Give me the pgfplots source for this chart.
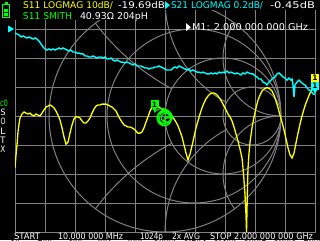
\documentclass[border=0pt]{standalone}
\usepackage{pgfplots}
\pgfplotsset{compat=1.18}
\usetikzlibrary{shapes.geometric}
\usepackage{graphicx}
\usepackage{fontspec}
\setmainfont{DejaVu Sans}
\definecolor{vgray}{RGB}{128,128,128}
\definecolor{vyel}{RGB}{255,255,0}
\definecolor{vcyan}{RGB}{0,255,255}
\definecolor{vgreen}{RGB}{0,255,0}
% x0, width, baseline (px from top), height, colour, text
\newcommand{\T}[6]{\node[anchor=base west,inner sep=0pt,outer sep=0pt,text=#5] at (#1,240-#3) {\resizebox{#2pt}{#4pt}{#6}};}
\tikzset{
 mtri/.style={regular polygon, regular polygon sides=3, shape border rotate=180, fill=#1, draw=none, inner sep=0pt, minimum size=7pt, anchor=corner 1},
 mbox/.style={fill=#1, text=black, inner sep=0pt, minimum width=8pt, minimum height=8pt, anchor=south, yshift=4pt, font=\fontsize{7.5}{7.5}\selectfont\bfseries}
}
\begin{document}
\begin{tikzpicture}[x=1pt,y=1pt]
\fill[black] (0,0) rectangle (320,240);
% ---------- Smith chart grid ----------
\begin{scope}[vgray, line width=1pt]
 \begin{scope}
  \clip (165,124) circle (116pt);
  \draw (281,356) circle (232pt);
  \draw (281,-108) circle (232pt);
  \draw (194,124) circle (87pt);
 \end{scope}
 \fill[black] (223,124) circle (58pt);
 \begin{scope}
  \clip (165,124) circle (116pt);
  \draw (281,240) circle (116pt);
  \draw (281,8) circle (116pt);
  \draw (223,124) circle (58pt);
 \end{scope}
 \fill[black] (252,124) circle (29pt);
 \draw (252,124) circle (29pt);
 \begin{scope}
  \clip (165,124) circle (116pt);
  \draw (281,182) circle (58pt);
  \draw (281,66) circle (58pt);
 \end{scope}
 \draw (165,124) circle (116pt);
\end{scope}
% ---------- S11 LOGMAG (with rectangular grid) ----------
\begin{axis}[at={(15pt,8pt)}, anchor=south west, scale only axis,
  width=300pt, height=232pt,
  xmin=10, xmax=2000, ymin=-70, ymax=10,
  xtick={10,209,408,607,806,1005,1204,1403,1602,1801,2000},
  ytick={-70,-60,-50,-40,-30,-20,-10,0,10},
  xticklabel={}, yticklabel={}, major tick length=0pt,
  grid=major, major grid style={vgray, line width=1pt},
  axis line style={vgray, line width=1pt},
  clip mode=individual]
\addplot[vyel, line width=1.3pt] table[x=f, y=db] {
f db
10 -47.9
16.6 -43.4
23.3 -40.0
29.9 -35.5
36.5 -32.8
43.2 -30.7
56.4 -29.3
69.7 -28.6
83.0 -29.0
96.2 -29.3
109.5 -29.0
122.8 -29.7
136.0 -30.0
149.3 -29.3
162.6 -29.7
175.8 -30.0
189.1 -29.0
202.4 -27.9
215.6 -26.9
228.9 -26.6
242.2 -26.2
255.4 -26.6
268.7 -27.2
282.0 -28.3
295.2 -29.7
308.5 -31.4
321.8 -34.1
335.0 -37.2
348.3 -39.7
361.6 -39.0
374.8 -35.9
388.1 -33.1
401.4 -31.0
414.6 -30.3
427.9 -30.3
441.2 -30.7
454.4 -31.7
467.7 -32.4
481.0 -32.4
494.2 -31.7
507.5 -30.7
520.8 -29.0
534.0 -27.6
547.3 -26.6
560.6 -26.2
573.8 -26.2
587.1 -25.9
600.4 -25.9
613.6 -25.9
626.9 -26.2
640.2 -26.6
653.4 -26.9
666.7 -27.6
680.0 -28.3
693.2 -29.7
706.5 -31.0
719.8 -32.1
733.0 -33.1
746.3 -33.4
759.6 -33.8
772.8 -33.8
786.1 -34.1
799.4 -34.5
812.6 -35.2
825.9 -35.9
839.2 -35.9
852.4 -35.5
865.7 -34.1
879.0 -32.1
892.2 -30.3
905.5 -28.3
918.8 -26.9
932.0 -26.2
945.3 -26.2
958.6 -26.6
971.8 -27.2
985.1 -27.6
998.4 -28.3
1011.6 -28.6
1024.9 -29.0
1038.2 -29.7
1051.4 -30.3
1064.7 -31.0
1078.0 -32.1
1091.2 -33.4
1104.5 -35.2
1117.8 -37.2
1131.0 -40.0
1144.3 -42.8
1157.6 -45.2
1170.8 -43.1
1184.1 -40.3
1197.4 -37.2
1210.6 -34.1
1223.9 -31.7
1237.2 -29.3
1250.4 -27.2
1263.7 -25.5
1277.0 -24.1
1290.2 -23.1
1303.5 -22.4
1316.8 -22.1
1330.0 -22.1
1343.3 -22.4
1356.6 -23.1
1369.8 -24.1
1383.1 -25.2
1396.4 -26.6
1409.6 -27.9
1422.9 -29.3
1436.2 -30.3
1449.4 -31.7
1462.7 -33.8
1476.0 -36.2
1489.2 -38.6
1502.5 -41.4
1515.8 -44.5
1522.4 -47.9
1529.0 -52.1
1535.7 -57.2
1542.3 -64.1
1545.7 -70.0
1549.0 -62.4
1552.3 -53.8
1555.6 -47.9
1562.2 -42.8
1568.9 -39.0
1582.1 -34.1
1595.4 -30.3
1608.7 -27.2
1621.9 -24.5
1635.2 -22.8
1648.5 -21.4
1661.7 -20.7
1675.0 -20.3
1688.3 -20.3
1701.5 -20.7
1714.8 -21.4
1728.1 -22.8
1741.3 -24.8
1754.6 -27.2
1767.9 -29.7
1781.1 -32.1
1794.4 -34.8
1807.7 -37.9
1820.9 -41.0
1834.2 -43.4
1847.5 -44.5
1860.7 -42.8
1874.0 -39.3
1887.3 -35.9
1900.5 -32.8
1913.8 -30.0
1927.1 -27.6
1940.3 -25.5
1953.6 -23.8
1966.9 -22.1
1980.1 -21.0
1993.4 -20.0
2000 -19.69
};
\node[mtri=vyel] at (axis cs:2000,-19.69) {};
\node[mbox=vyel] at (axis cs:2000,-19.69) {1};
\end{axis}
% ---------- S21 LOGMAG ----------
\begin{axis}[at={(15pt,8pt)}, anchor=south west, scale only axis,
  width=300pt, height=232pt,
  xmin=10, xmax=2000, ymin=-1.4, ymax=0.2, hide axis, clip=false]
\addplot[vcyan, line width=1.4pt] table[x=f, y=db] {
f db
10 -0.028
23.3 -0.034
36.5 -0.041
49.8 -0.055
63.1 -0.048
76.3 -0.055
89.6 -0.062
102.9 -0.055
116.1 -0.062
129.4 -0.069
142.7 -0.062
155.9 -0.069
169.2 -0.083
182.5 -0.103
195.7 -0.124
209.0 -0.138
222.3 -0.145
235.5 -0.138
248.8 -0.145
262.1 -0.138
275.3 -0.145
288.6 -0.138
301.9 -0.131
315.1 -0.138
328.4 -0.131
341.7 -0.138
354.9 -0.145
368.2 -0.152
381.5 -0.145
394.7 -0.159
408.0 -0.159
421.3 -0.166
434.5 -0.166
447.8 -0.172
461.1 -0.172
474.3 -0.186
487.6 -0.186
500.9 -0.193
514.1 -0.193
527.4 -0.186
540.7 -0.193
553.9 -0.200
567.2 -0.193
580.5 -0.193
593.7 -0.200
607.0 -0.193
620.3 -0.207
633.5 -0.207
646.8 -0.200
660.1 -0.214
673.3 -0.221
686.6 -0.214
699.9 -0.221
713.1 -0.228
726.4 -0.228
739.7 -0.234
752.9 -0.228
766.2 -0.234
779.5 -0.241
792.7 -0.248
806.0 -0.241
819.3 -0.255
832.5 -0.255
845.8 -0.255
859.1 -0.262
872.3 -0.269
885.6 -0.269
898.9 -0.276
912.1 -0.269
925.4 -0.269
938.7 -0.262
951.9 -0.262
965.2 -0.255
978.5 -0.262
991.7 -0.269
1005.0 -0.276
1018.3 -0.283
1031.5 -0.283
1044.8 -0.283
1058.1 -0.269
1071.3 -0.262
1084.6 -0.269
1097.9 -0.255
1111.1 -0.262
1124.4 -0.269
1137.7 -0.276
1150.9 -0.283
1164.2 -0.276
1177.5 -0.290
1190.7 -0.283
1204.0 -0.290
1217.3 -0.297
1230.5 -0.297
1243.8 -0.303
1257.1 -0.297
1270.3 -0.303
1283.6 -0.310
1296.9 -0.310
1310.1 -0.303
1323.4 -0.310
1336.7 -0.303
1349.9 -0.310
1363.2 -0.297
1376.5 -0.303
1389.7 -0.297
1403.0 -0.303
1416.3 -0.290
1429.5 -0.303
1442.8 -0.297
1456.1 -0.303
1469.3 -0.310
1482.6 -0.303
1495.9 -0.310
1509.1 -0.317
1522.4 -0.303
1535.7 -0.310
1548.9 -0.297
1562.2 -0.303
1575.5 -0.310
1588.7 -0.310
1602.0 -0.324
1615.3 -0.331
1628.5 -0.345
1641.8 -0.345
1655.1 -0.366
1668.3 -0.372
1681.6 -0.386
1694.9 -0.366
1708.1 -0.352
1721.4 -0.338
1734.7 -0.331
1747.9 -0.310
1761.2 -0.303
1774.5 -0.317
1787.7 -0.331
1801.0 -0.338
1814.3 -0.352
1827.5 -0.338
1840.8 -0.352
1847.5 -0.345
1854.1 -0.386
1860.7 -0.469
1867.4 -0.386
1880.7 -0.366
1893.9 -0.352
1907.2 -0.366
1920.5 -0.379
1933.7 -0.386
1947.0 -0.407
1960.3 -0.421
1973.5 -0.428
1986.8 -0.448
2000 -0.45
};
\node[regular polygon, regular polygon sides=3, shape border rotate=-90, fill=vcyan, inner sep=0pt, minimum size=8pt, anchor=corner 1, xshift=-0.5pt] at (axis cs:10,0) {};
\node[mtri=vcyan] at (axis cs:2000,-0.45) {};
\node[mbox=vcyan] at (axis cs:2000,-0.45) {1};
\end{axis}
% ---------- S11 SMITH ----------
\begin{axis}[at={(49pt,8pt)}, anchor=south west, scale only axis,
  width=232pt, height=232pt,
  xmin=-1, xmax=1, ymin=-1, ymax=1, hide axis, clip=false]
\addplot[vgreen, line width=1pt, smooth] coordinates {
(0.01,-0.02) (0.03,-0.015) (0.04,0.005) (0.02,0.03) (-0.01,0.035) (-0.04,0.015)
(-0.05,-0.015) (-0.04,-0.05) (-0.01,-0.065) (0.02,-0.06) (0.045,-0.035) (0.05,-0.005)
(0.035,0.025) (0.0,0.045) (-0.035,0.035) (-0.06,0.005) (-0.06,-0.035) (-0.04,-0.065)
(0.0,-0.08) (0.035,-0.065) (0.055,-0.03) (0.045,0.005) (0.02,0.02) (-0.01,0.02)
(-0.03,0.0) (-0.03,-0.03) (-0.01,-0.05) (0.02,-0.055) (0.05,-0.045) (0.065,-0.015)
(0.055,0.02) (0.025,0.045) (-0.02,0.05) (-0.055,0.025) (-0.07,-0.015) (-0.055,-0.06)
(-0.015,-0.085) (0.03,-0.075) (0.05,-0.045) (0.04,-0.015) (0.015,-0.005) (-0.005,-0.015)
(-0.01,-0.035) (0.01,-0.05) (0.04,-0.045) (0.06,-0.015) (0.05,0.025) (0.015,0.055)
(-0.03,0.065) (-0.07,0.05) (-0.09,0.03)
};
\node[mtri=vgreen] at (axis cs:-0.09,0.03) {};
\node[mbox=vgreen] at (axis cs:-0.09,0.03) {1};
\end{axis}
% ---------- black panels behind header text ----------
\fill[black] (0,240) rectangle (316,229.5);
\fill[black] (0,229.5) rectangle (150,219.5);
\fill[black] (0,219.5) rectangle (14.5,215);
% battery
\begin{scope}[vgreen]
 \fill (4.5,238) rectangle (7.5,235.5);
 \draw[line width=1pt] (2.5,235.5) rectangle (9.5,222);
 \fill (4,231) rectangle (8,228);
 \fill (4,227) rectangle (8,223.5);
\end{scope}
% ---------- texts ----------
\T{23}{90}{9}{7}{vyel}{S11 LOGMAG 10dB/}
\T{118}{47}{9}{7}{white}{-19.69dB}
\T{165}{5}{8.5}{7}{vcyan}{▶}
\T{171}{92}{9}{7}{vcyan}{S21 LOGMAG 0.2dB/}
\T{270}{45}{9}{7}{white}{-0.45dB}
\T{23}{49}{19.3}{7}{vgreen}{S11 SMITH}
\T{80}{68}{19.3}{7}{white}{40.93Ω 204pH}
\T{186}{5}{30.3}{7}{white}{▶}
\T{192}{116}{30.5}{7}{white}{M1: 2.000 000 000 GHz}
\T{14}{26}{239.6}{6.6}{white}{START}
\T{58}{65}{239.6}{6.6}{white}{10.000 000 MHz}
\T{140}{23}{239.6}{6.6}{white}{1024p}
\T{172}{28}{239.6}{6.6}{white}{2x AVG}
\T{210}{103}{239.6}{6.6}{white}{STOP 2.000 000 000 GHz}
\T{0}{8}{106.5}{6.5}{vgreen}{c0}
\T{0.5}{5}{115.5}{6.5}{white}{S}
\T{0.5}{5}{125}{6.5}{white}{O}
\T{0.5}{5}{134.5}{6.5}{white}{L}
\T{0.5}{5}{143.5}{6.5}{white}{T}
\T{0.5}{5}{152.5}{6.5}{white}{X}
\pgfresetboundingbox
\path (0,0) rectangle (320,240);
\end{tikzpicture}
\end{document}
